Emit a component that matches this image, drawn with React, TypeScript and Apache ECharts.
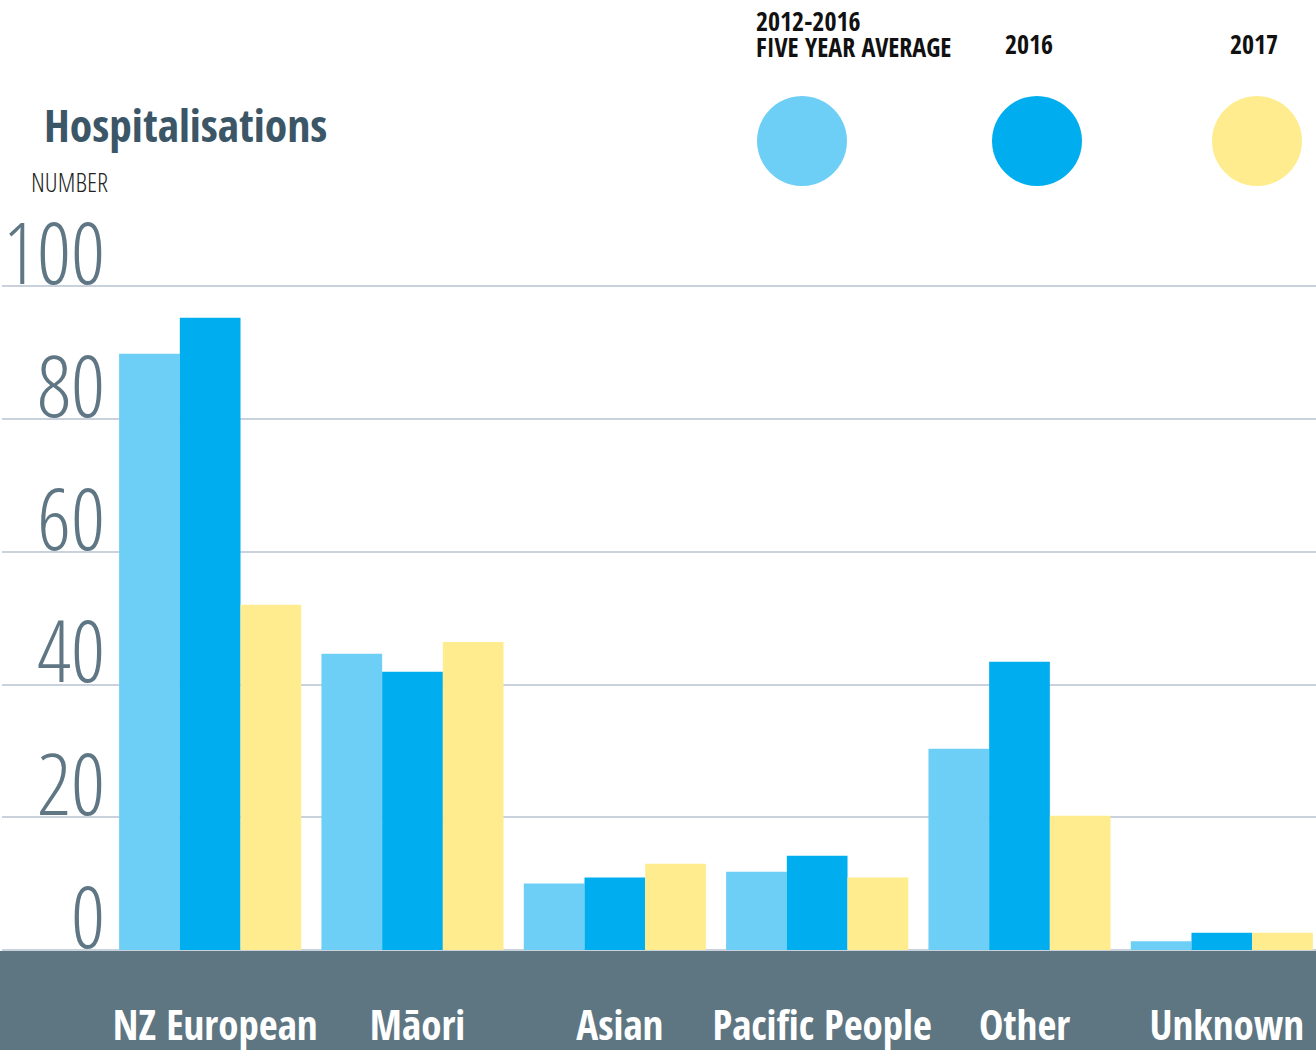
import React, { useEffect, useRef } from "react";
import * as echarts from "echarts";

const categories = ["NZ European", "Māori", "Asian", "Pacific People", "Other", "Unknown"];
const seriesNames = ["2012-2016 FIVE YEAR AVERAGE", "2016", "2017"];
const avg2012_2016 = [89.8, 44.6, 10.0, 11.8, 30.3, 1.3];
const values2016 = [95.2, 41.9, 10.9, 14.2, 43.4, 2.6];
const values2017 = [52.0, 46.4, 13.0, 10.9, 20.2, 2.6];
const yTicks = { min: 0, max: 100, interval: 20 };

const COLORS = ["#6dcff6", "#00aeef", "#feec8f"];
const BOLD = "'Open Sans Condensed', 'Liberation Sans Narrow', sans-serif";
const LIGHT = "'Open Sans Condensed Light', 'Liberation Sans Narrow', sans-serif";

export default function App() {
  const ref = useRef<HTMLDivElement>(null);
  useEffect(() => {
    const chart = echarts.init(ref.current!, null, { renderer: "svg" });
    const legendLefts = [757, 992, 1212];
    chart.setOption({
      animation: false,
      backgroundColor: "#ffffff",
      color: COLORS,
      grid: [
        { left: 0, right: 14, top: 286, bottom: 100 },
        { left: 109, width: 1214, top: 286, bottom: 100 },
      ],
      xAxis: [
        { gridIndex: 0, type: "value", show: false, min: 0, max: 1 },
        {
          gridIndex: 1,
          type: "category",
          data: categories,
          axisLine: { show: false },
          axisTick: { show: false },
          axisLabel: {
            color: "#ffffff",
            fontFamily: BOLD,
            fontWeight: "bold",
            fontSize: 41,
            lineHeight: 41,
            margin: 53,
            padding: [0, 0, 0, 10],
            interval: 0,
          },
        },
      ],
      yAxis: [
        {
          gridIndex: 0,
          type: "value",
          min: yTicks.min,
          max: yTicks.max,
          interval: yTicks.interval,
          axisLine: { show: false },
          axisTick: { show: false },
          splitLine: { show: true, lineStyle: { color: "#c9d2dc", width: 2 } },
          axisLabel: {
            inside: true,
            margin: 103,
            align: "right",
            verticalAlign: "bottom",
            color: "#5f7784",
            fontFamily: LIGHT,
            fontSize: 85,
            lineHeight: 70,
          },
        },
        {
          gridIndex: 1,
          type: "value",
          min: yTicks.min,
          max: yTicks.max,
          interval: yTicks.interval,
          show: false,
          splitLine: { show: false },
        },
      ],
      legend: seriesNames.map((n, i) => ({
        data: [n],
        left: legendLefts[i],
        top: 96,
        padding: 0,
        icon: "circle",
        itemWidth: 90,
        itemHeight: 90,
        formatter: () => "",
        textStyle: { fontSize: 1 },
        selectedMode: false,
      })),
      series: [avg2012_2016, values2016, values2017].map((d, i) => ({
        name: seriesNames[i],
        type: "bar",
        xAxisIndex: 1,
        yAxisIndex: 1,
        data: d,
        barGap: "0%",
        barCategoryGap: "10%",
        itemStyle: { color: COLORS[i] },
      })),
      graphic: [
        { type: "rect", left: 0, top: 951, z: -10, shape: { width: 1330, height: 99 }, style: { fill: "#5e7582" } },
        { type: "text", x: 44, y: 124, style: { text: "Hospitalisations", font: `bold 45.5px ${BOLD}`, fill: "#3b5767", verticalAlign: "middle" } },
        { type: "text", x: 31, y: 182, style: { text: "NUMBER", font: `normal 26px ${LIGHT}`, lineHeight: 22, fill: "#222222", verticalAlign: "middle" } },
        { type: "text", x: 756, y: 34, style: { text: "2012-2016\nFIVE YEAR AVERAGE", font: `bold 26px ${BOLD}`, lineHeight: 26, fill: "#111111", verticalAlign: "middle" } },
        { type: "text", x: 1005, y: 44, style: { text: "2016", font: `bold 26px ${BOLD}`, lineHeight: 24, fill: "#111111", verticalAlign: "middle" } },
        { type: "text", x: 1230, y: 44, style: { text: "2017", font: `bold 26px ${BOLD}`, lineHeight: 24, fill: "#111111", verticalAlign: "middle" } },
      ],
    });
    return () => chart.dispose();
  }, []);
  return (
    <div style={{ position: "absolute", left: 0, top: 0, width: 1316, height: 1050, overflow: "hidden" }}>
      <div ref={ref} style={{ width: 1330, height: 1050 }} />
    </div>
  );
}
